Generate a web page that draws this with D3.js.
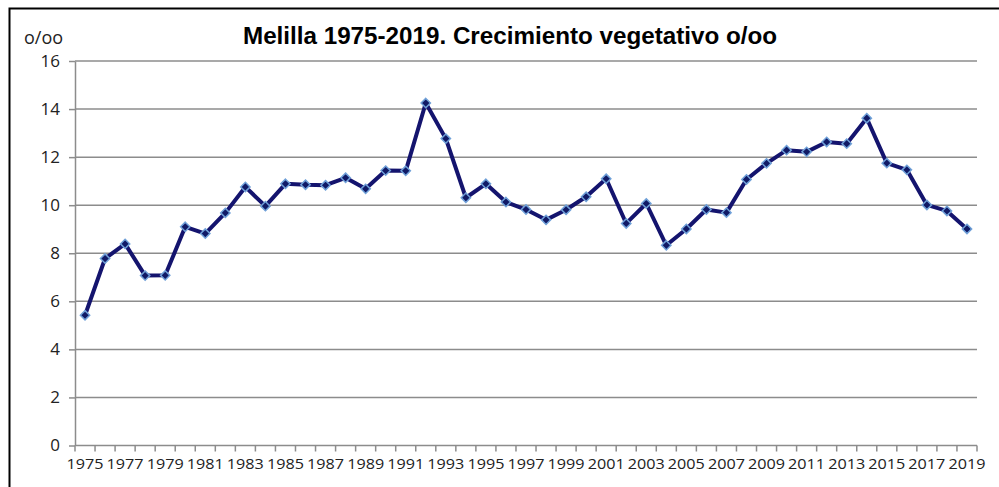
<!DOCTYPE html>
<html>
<head>
<meta charset="utf-8">
<script src="https://cdn.jsdelivr.net/npm/d3@7"></script>
<style>
  body { margin: 0; background: #fff; }
  svg { display: block; }
</style>
</head>
<body>
<svg id="chart"></svg>
<script>
  const title = "Melilla 1975-2019. Crecimiento vegetativo o/oo";
  const unitLabel = "o/oo";
  const years = d3.range(1975, 2020);
  const values = [
    5.42, 7.78, 8.39, 7.07, 7.08, 9.10, 8.82, 9.68, 10.76, 9.96,
    10.89, 10.85, 10.83, 11.14, 10.68, 11.44, 11.43, 14.25, 12.77, 10.31,
    10.89, 10.13, 9.82, 9.39, 9.81, 10.35, 11.10, 9.24, 10.07, 8.33,
    9.01, 9.82, 9.69, 11.07, 11.74, 12.29, 12.22, 12.63, 12.56, 13.62,
    11.75, 11.47, 10.01, 9.76, 9.01
  ];
  const yTicks = [0, 2, 4, 6, 8, 10, 12, 14, 16];
  const xLabels = years.filter(y => (y - 1975) % 2 === 0);

  const width = 999;
  const height = 487;
  const margin = {left: 75, right: 22, top: 61, bottom: 41.5};

  let svg = d3.select("#chart")
              .attr("width", width)
              .attr("height", height);

  // outer frame (runs off the right and bottom edges)
  svg.append("rect")
      .attr("x", 9.5)
      .attr("y", 8.5)
      .attr("width", 1000)
      .attr("height", 500)
      .attr("fill", "#fff")
      .attr("stroke", "#000")
      .attr("stroke-width", 2);

  let x = d3.scaleBand()
            .domain(years)
            .range([margin.left, width - margin.right]);

  let y = d3.scaleLinear()
            .domain([0, 16])
            .range([height - margin.bottom, margin.top]);

  // gridlines
  svg.append("g")
    .selectAll("line")
    .data(yTicks.filter(d => d > 0))
    .enter()
    .append("line")
      .attr("x1", margin.left)
      .attr("x2", width - margin.right)
      .attr("y1", d => y(d))
      .attr("y2", d => y(d))
      .attr("stroke", "#8c8c8c")
      .attr("stroke-width", 1.5);

  // y axis
  let yAxis = d3.axisLeft(y)
                .tickValues(yTicks)
                .tickSize(6)
                .tickSizeOuter(0)
                .tickPadding(9);

  let yG = svg.append("g")
      .attr("transform", `translate(${margin.left},0)`)
      .call(yAxis);
  yG.selectAll("text")
      .style("font-family", "'Open Sans', sans-serif")
      .style("font-size", "17px")
      .attr("fill", "#222");

  // x axis: ticks at category boundaries, labels every two years
  let xAxisG = svg.append("g")
      .attr("transform", `translate(0,${y(0)})`);

  xAxisG.append("line")
      .attr("x1", margin.left)
      .attr("x2", width - margin.right)
      .attr("stroke", "#8c8c8c")
      .attr("stroke-width", 1.5);

  xAxisG.selectAll(".xtick")
    .data(years.concat([null]))
    .enter()
    .append("line")
      .classed("xtick", true)
      .attr("x1", (d, i) => margin.left + i * x.step())
      .attr("x2", (d, i) => margin.left + i * x.step())
      .attr("y1", 0)
      .attr("y2", 6)
      .attr("stroke", "#8c8c8c")
      .attr("stroke-width", 1.5);

  xAxisG.selectAll(".xlabel")
    .data(xLabels)
    .enter()
    .append("text")
      .classed("xlabel", true)
      .attr("x", d => x(d) + x.bandwidth() / 2)
      .attr("y", 23)
      .attr("text-anchor", "middle")
      .attr("textLength", 37)
      .attr("lengthAdjust", "spacingAndGlyphs")
      .style("font-family", "'Open Sans', sans-serif")
      .style("font-size", "15px")
      .attr("fill", "#222")
      .text(d => d);

  svg.selectAll(".domain").attr("stroke", "#8c8c8c").attr("stroke-width", 1.5);
  svg.selectAll(".tick line").attr("stroke", "#8c8c8c").attr("stroke-width", 1.5);

  // line
  let line = d3.line()
               .x((d, i) => x(years[i]) + x.bandwidth() / 2)
               .y(d => y(d));

  svg.append("path")
      .datum(values)
      .attr("d", line)
      .attr("fill", "none")
      .attr("stroke", "#14146e")
      .attr("stroke-width", 4)
      .attr("stroke-linejoin", "round");

  // diamond markers
  let diamond = d3.symbol().type(d3.symbolDiamond2).size(55);
  svg.append("g")
    .selectAll("path")
    .data(values)
    .enter()
    .append("path")
      .attr("d", diamond)
      .attr("transform", (d, i) => `translate(${x(years[i]) + x.bandwidth() / 2},${y(d)})`)
      .attr("fill", "#101a66")
      .attr("stroke", "#6fa0d8")
      .attr("stroke-width", 1.5);

  // title
  svg.append("text")
      .attr("x", 510)
      .attr("y", 44)
      .attr("text-anchor", "middle")
      .attr("textLength", 534)
      .attr("lengthAdjust", "spacingAndGlyphs")
      .style("font-family", "'Liberation Sans', Arial, sans-serif")
      .style("font-weight", "bold")
      .style("font-size", "23px")
      .attr("fill", "#000")
      .text(title);

  svg.append("text")
      .attr("x", 24)
      .attr("y", 44)
      .style("font-family", "'Open Sans', sans-serif")
      .style("font-size", "18px")
      .attr("fill", "#222")
      .text(unitLabel);
</script>
</body>
</html>
